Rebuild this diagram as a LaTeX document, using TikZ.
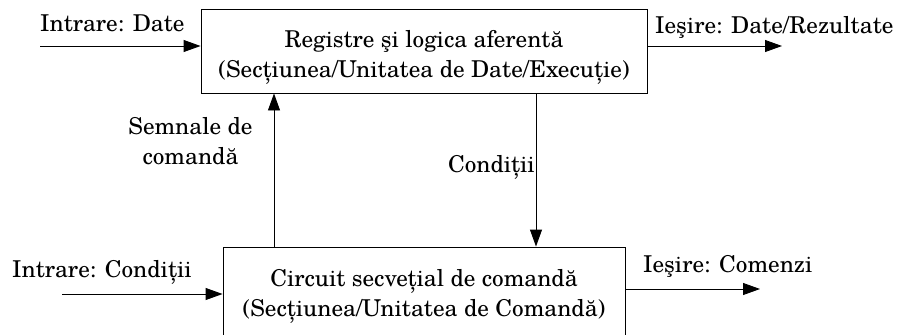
\documentclass[tikz,border=0pt]{standalone}
\usepackage{fontspec}
\setmainfont{TeX Gyre Schola}
\usetikzlibrary{arrows.meta}
\begin{document}
\begin{tikzpicture}[x=1pt,y=-1pt,
  every node/.style={font=\fontsize{23.2}{30}\selectfont, inner sep=0pt},
  block/.style={draw, line width=0.9pt},
  blocktext/.style={align=center},
  flow/.style={line width=0.9pt, -{Triangle[length=17pt,width=12pt]}},
  lbl/.style={anchor=base west}]
\useasboundingbox (0,0) rectangle (906,335);
\clip (0,0) rectangle (906,335);

% main blocks (frames) and their captions
\node[block, minimum width=446pt, minimum height=84pt] (top) at (424,51) {};
\node[blocktext] (topT) at (424,57)
  {Registre şi logica aferentă\\(Secțiunea/Unitatea de Date/Execuție)};
\node[block, minimum width=402pt, minimum height=100pt] (bot) at (424,297) {};
\node[blocktext] (botT) at (424,296)
  {Circuit secvețial de comandă\\(Secțiunea/Unitatea de Comandă)};

% free ends of the external signals
\coordinate (inA)  at (40,46);
\coordinate (outA) at (782,46);
\coordinate (inB)  at (62,294);
\coordinate (outB) at (760,289);
\coordinate (cmd)  at (274,170);
\coordinate (cond) at (536,170);

% connectors
\draw[flow] (inA) -- (inA -| top.west);
\draw[flow] (outA -| top.east) -- (outA);
\draw[flow] (inB) -- (inB -| bot.west);
\draw[flow] (outB -| bot.east) -- (outB);
\draw[flow] (cmd |- bot.north) -- (cmd |- top.south);
\draw[flow] (cond |- top.south) -- (cond |- bot.north);

% labels
\node[lbl] (tInA)  at (40,31)  {Intrare: Date};
\node[lbl] (tOutA) at (655,33) {Ieşire: Date/Rezultate};
\node[lbl] (tInB)  at (12,277) {Intrare: Condiții};
\node[lbl] (tOutB) at (643,272) {Ieşire: Comenzi};
\node[anchor=base east] (tCond) at (535,172) {Condiții};
\node[align=center, anchor=base] (tCmd) at (190.5,164) {Semnale de\\comandă};
\end{tikzpicture}
\end{document}
